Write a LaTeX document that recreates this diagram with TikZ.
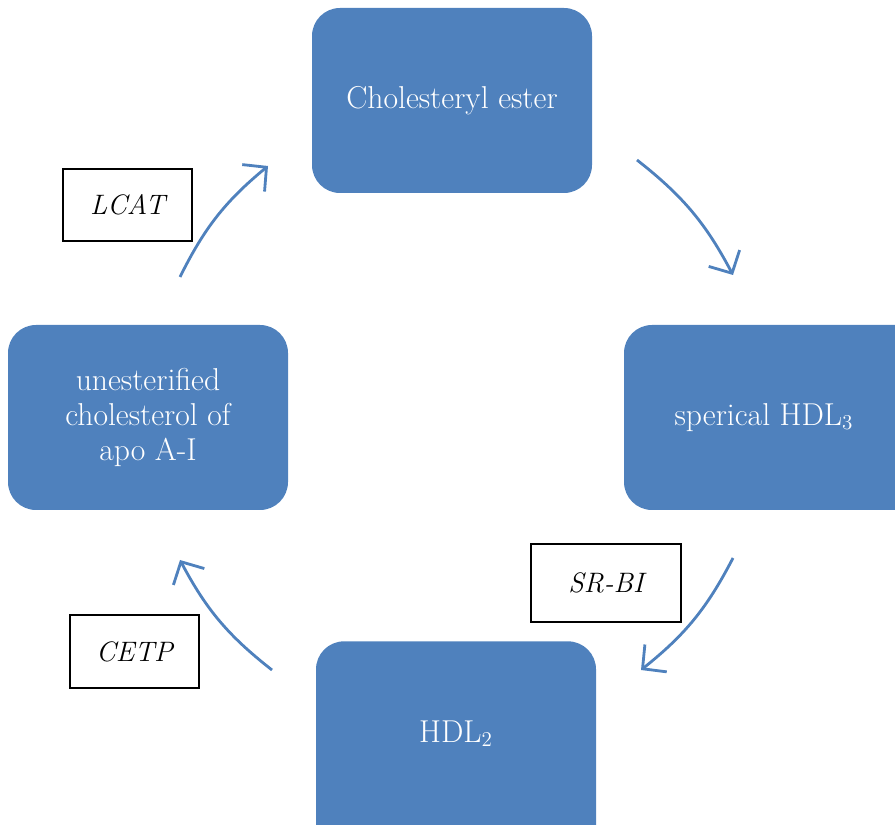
\documentclass[tikz,border=0pt]{standalone}
\usepackage{tikz}
\usetikzlibrary{arrows.meta}

\definecolor{boxblue}{HTML}{4F81BD}

\begin{document}
\begin{tikzpicture}[
  stage/.style={fill=boxblue, rounded corners=0.56cm, align=center,
                text=white, font=\fontsize{18}{20}\selectfont,
                minimum width=5.6cm, minimum height=3.7cm, inner sep=2pt},
  enz/.style={draw, line width=0.9pt, font=\fontsize{16}{19}\selectfont\itshape,
              minimum height=1.45cm},
  flow/.style={draw=boxblue, line width=1.6pt,
               -{Straight Barb[length=3.4mm, width=7mm, line width=1.6pt]}}]
  \useasboundingbox (0,0) rectangle (17.9,16.48);
  \node[stage] (ester) at (9.04,14.47) {Cholesteryl ester};
  % these two run off the page edge
  \node[stage, minimum width=6.6cm] (hdl3) at (15.78,8.13) {sperical HDL$_3$\kern1cm};
  \node[stage, anchor=north, text depth=1.4cm, minimum height=5cm] (hdl2) at (9.12,3.66) {HDL$_2$};
  \node[stage] (free) at (2.96,8.13) {unesterified\\cholesterol of\\apo A-I};
  \node[enz, minimum width=2.58cm] (lcat) at (2.55,12.38) {LCAT};
  \node[enz, minimum width=3.0cm, minimum height=1.56cm] (srbi) at (12.12,4.82) {SR-BI};
  \node[enz, minimum width=2.58cm] (cetp) at (2.69,3.45) {CETP};
  \coordinate (a1) at (3.6,10.94);   \coordinate (b1) at (5.36,13.16);
  \coordinate (a2) at (12.74,13.28); \coordinate (b2) at (14.66,10.98);
  \coordinate (a3) at (14.66,5.32);  \coordinate (b3) at (12.82,3.08);
  \coordinate (a4) at (5.44,3.08);   \coordinate (b4) at (3.6,5.28);
  \draw[flow] (a1) to[bend left=12] (b1);
  \draw[flow] (a2) to[bend left=12] (b2);
  \draw[flow] (a3) to[bend left=12] (b3);
  \draw[flow] (a4) to[bend left=12] (b4);
\end{tikzpicture}
\end{document}
